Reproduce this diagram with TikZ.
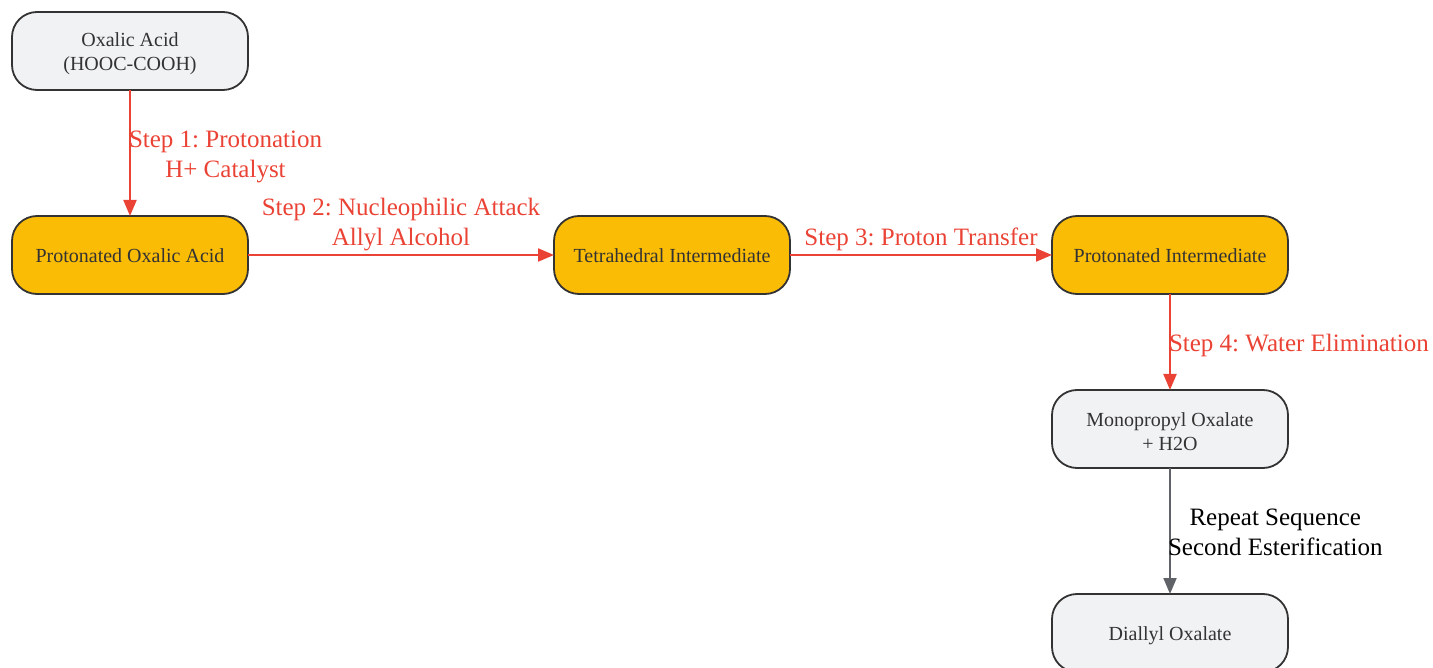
\documentclass[tikz,border=0pt]{standalone}
\usepackage{fontspec}
\setmainfont{Liberation Serif}
\usepackage{xcolor}
\usepackage{tikz}
\usetikzlibrary{arrows.meta}
\usetikzlibrary{positioning}
\definecolor{stepred}{RGB}{234,67,53}
\definecolor{nodegray}{RGB}{241,242,244}
\definecolor{nodeyellow}{RGB}{251,188,5}
\definecolor{linegray}{RGB}{95,99,104}
\definecolor{textdark}{RGB}{51,51,51}
\frenchspacing

\begin{document}
\begin{tikzpicture}[x=1pt,y=1pt,-,>={Triangle[length=16pt,width=13pt]},
	base node/.style={rectangle, rounded corners=25pt, draw=textdark, line width=1.8pt, minimum width=236pt, minimum height=78pt, inner sep=0pt, outer sep=0pt, align=center, text=textdark, font=\fontsize{20}{24}\selectfont},
	main node/.style={base node, fill=nodegray},
	hot node/.style={base node, fill=nodeyellow}, 
	red line/.style={->, draw=stepred, line width=2pt},
	gray line/.style={->, draw=linegray, line width=2pt}]
			
			\useasboundingbox (0,0) rectangle (1433,-668);
			
			\node[main node] (1) at (130,-51) {\rule{0pt}{20pt}Oxalic Acid\\(HOOC-COOH)};
			\node[hot node] (2) [below=126pt of 1] {\rule{0pt}{16pt}Protonated Oxalic Acid};
			\node[hot node] (3) [right=306pt of 2] {\rule{0pt}{16pt}Tetrahedral Intermediate};
			\node[hot node] (4) [right=262pt of 3] {\rule{0pt}{16pt}Protonated Intermediate};
			\node[main node] (5) [below=96pt of 4] {\rule{0pt}{20pt}Monopropyl Oxalate\\+ H2O};
			\node[main node] (6) [below=126pt of 5] {\rule{0pt}{19pt}Diallyl Oxalate};
			
			
			\path[every node/.style={font=\fontsize{25}{30}\selectfont, text=stepred, align=center, inner sep=0pt}]
			(1)
			edge[red line] node[right, xshift=-2pt, yshift=-4pt] {Step 1: Protonation\\H+ Catalyst} (2)
			
			(2)
			edge[red line] node[yshift=30pt] {Step 2: Nucleophilic Attack\\Allyl Alcohol} (3)
			
			(3)
			edge[red line] node[yshift=16pt] {Step 3: Proton Transfer} (4)
			
			(4)
			edge[red line] node[right, xshift=-2pt, yshift=-3pt] {Step 4: Water Elimination} (5)
			
			(5) edge[gray line] node[right, xshift=-3pt, yshift=-1pt, text=black] {Repeat Sequence\\Second Esterification} (6);
			
		\end{tikzpicture}
\end{document}
